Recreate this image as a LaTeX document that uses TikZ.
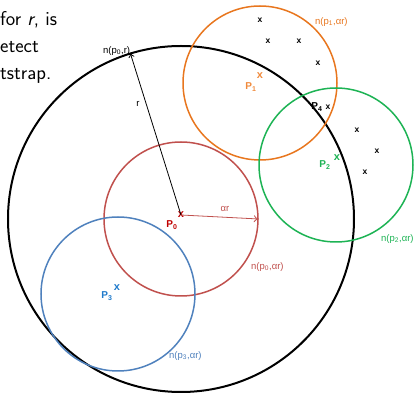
\documentclass[tikz,border=0pt]{standalone}
\usepackage{fontspec}
\newfontfamily\lab{Liberation Sans}
\usetikzlibrary{arrows.meta}
\definecolor{cblack}{HTML}{000000}
\definecolor{cred}{HTML}{C0504D}
\definecolor{cpred}{HTML}{C00000}
\definecolor{corange}{HTML}{E8761E}
\definecolor{cporange}{HTML}{F08A3C}
\definecolor{cgreen}{HTML}{1DB354}
\definecolor{cblue}{HTML}{4F81BD}
\definecolor{cpblue}{HTML}{1F7ACB}
\tikzset{
  ring/.style={circle, draw, inner sep=0pt, minimum size=154pt, line width=1.5pt},
  bigring/.style={circle, draw=cblack, inner sep=0pt, minimum size=346pt, line width=2pt},
  mk/.style={inner sep=0pt, font=\lab\bfseries\fontsize{8.5}{9}\selectfont},
  pmk/.style={inner sep=0pt, font=\lab\bfseries\fontsize{11}{11}\selectfont},
  plab/.style={inner sep=0pt, font=\lab\bfseries\fontsize{10}{10}\selectfont},
  nlab/.style={inner sep=0pt, font=\lab\fontsize{9.5}{10}\selectfont},
  toptext/.style={inner sep=0pt, anchor=base west, font=\sffamily\fontsize{20}{22}\selectfont},
}
\begin{document}
\begin{tikzpicture}[x=1pt,y=-1pt]
\useasboundingbox (0,0) rectangle (416,395);
% text fragments
\node[toptext] (t1) at (0,26) {for \textit{r}, is};
\node[toptext] (t2) at (0,53) {etect};
\node[toptext] (t3) at (0,80) {tstrap.};
% circles
\node[bigring] (c0) at (181,219) {};
\node[ring, draw=cred] (cr) at (181,219) {};
\node[ring, draw=cblue] (cb) at (118,294) {};
\node[ring, draw=corange] (co) at (260,83) {};
\node[ring, draw=cgreen] (cg) at (336,165) {};
% P0
\node[pmk, text=cpred] (p0) at (181,215) {x};
\node[plab, text=cpred] (p0l) at (172,225) {P\textsubscript{0}};
\draw[-{To[length=5pt,width=6pt]}, line width=0.8pt] (p0.center) -- (c0.107);
\node[nlab, anchor=west] (nr) at (103,51) {n(p\textsubscript{0},r)};
\node[nlab] (rl) at (138,104) {r};
\draw[cred, -{To[length=5pt,width=7pt]}, line width=0.8pt] (p0.center) -- (cr.east);
\node[nlab, text=cred] (al) at (225,209) {αr};
\node[nlab, text=cred, anchor=west] (n0) at (251,267) {n(p\textsubscript{0},αr)};
% P1
\node[pmk, text=cporange] (p1) at (260,76) {x};
\node[plab, text=cporange] (p1l) at (251,87) {P\textsubscript{1}};
\node[nlab, text=corange, anchor=west] (n1) at (315,22) {n(p\textsubscript{1},αr)};
% P2
\node[pmk, text=cgreen] (p2) at (337,158) {x};
\node[plab, text=cgreen] (p2l) at (325,165) {P\textsubscript{2}};
\node[nlab, text=cgreen, anchor=west] (n2) at (381,239) {n(p\textsubscript{2},αr)};
% P3
\node[pmk, text=cpblue] (p3) at (117,288) {x};
\node[plab, text=cpblue] (p3l) at (107,296) {P\textsubscript{3}};
\node[nlab, text=cblue, anchor=west] (n3) at (169,356) {n(p\textsubscript{3},αr)};
% P4
\node[plab] (p4l) at (317,107) {P\textsubscript{4}};
\node[mk] (p4) at (328,107) {x};
% other points
\node[mk] (x1) at (260,20) {x};
\node[mk] (x2) at (268,41) {x};
\node[mk] (x3) at (299,41) {x};
\node[mk] (x4) at (318,63) {x};
\node[mk] (x5) at (357,130) {x};
\node[mk] (x6) at (377,151) {x};
\node[mk] (x7) at (365,172) {x};
\end{tikzpicture}
\end{document}
